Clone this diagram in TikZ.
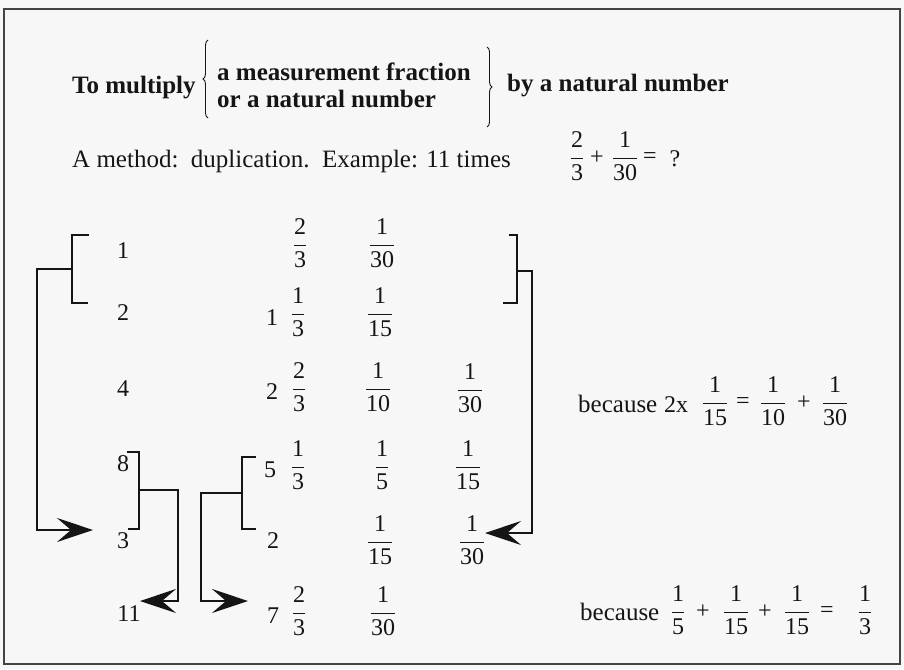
\RequirePackage{fix-cm}
\documentclass[tikz,border=0pt]{standalone}
\usepackage{fontspec}
\setmainfont{Liberation Serif}
\newfontfamily\tms{Liberation Serif}
\usetikzlibrary{arrows.meta,decorations.pathreplacing}
\definecolor{bg}{HTML}{F7F7F7}
\definecolor{ink}{HTML}{151515}
\newcommand\fr[2]{$\displaystyle\frac{\mbox{\tms #1}}{\mbox{\tms #2}}$}
\begin{document}
\begin{tikzpicture}[x=1pt,y=-1pt,
  ttl/.style={font=\tms\fontsize{25}{29}\selectfont\bfseries, inner sep=0pt, text=ink, anchor=base west},
  txt/.style={font=\tms\fontsize{25}{29}\selectfont, inner sep=0pt, text=ink, anchor=base west},
  num/.style={font=\tms\fontsize{24}{28}\selectfont, inner sep=0pt, text=ink, anchor=base},
  op/.style={font=\tms\fontsize{24}{28}\selectfont, inner sep=0pt, text=ink, anchor=center},
  bk/.style={line width=2pt, draw=ink},
  arr/.style={bk, -{Stealth[length=36pt,width=24pt,inset=14pt]}},
  brc/.style={draw=ink, line width=0.9pt, decorate, decoration={brace, amplitude=5pt}}
]
\fill[bg] (0,0) rectangle (904,669);
\useasboundingbox (0,0) rectangle (904,669);
\draw[ink!80, line width=1.3pt] (4,9) rectangle (900,664);

% title
\node[ttl] (to) at (72,93) {To multiply};
\node[ttl] (m1) at (217,80) {a measurement fraction};
\node[ttl] (m2) at (217,107) {or a natural number};
\node[ttl] (by) at (507,92) {by a natural number};
\coordinate (lb1) at (208,118); \coordinate (lb2) at (208,40);
\coordinate (rb1) at (487,47); \coordinate (rb2) at (487,127);
\draw[brc] (lb1) -- (lb2);
\draw[brc] (rb1) -- (rb2);

% method line
\node[txt] (meth) at (72,167) {A method:\ \ duplication.\ \ Example: 11 times};
\node[num] (ex1) at (577,164) {\fr{2}{3}};
\node[op] (exp) at (597,158) {+};
\node[num] (ex2) at (625,164) {\fr{1}{30}};
\node[op] (exe) at (650,158) {=};
\node[num] (exq) at (675,166) {?};

% row 1
\node[num] (n1) at (123,258) {1};
\node[num] (f1a) at (300,251) {\fr{2}{3}};
\node[num] (f1b) at (382,251) {\fr{1}{30}};
% row 2
\node[num] (n2) at (123,320) {2};
\node[num] (i2) at (272,325) {1};
\node[num] (f2a) at (298,320) {\fr{1}{3}};
\node[num] (f2b) at (380,320) {\fr{1}{15}};
% row 3
\node[num] (n3) at (123,396) {4};
\node[num] (i3) at (272,399) {2};
\node[num] (f3a) at (299,395) {\fr{2}{3}};
\node[num] (f3b) at (378,395) {\fr{1}{10}};
\node[num] (f3c) at (470,396) {\fr{1}{30}};
% row 4
\node[num] (n4) at (123,471) {8};
\node[num] (i4) at (270,477) {5};
\node[num] (f4a) at (298,473) {\fr{1}{3}};
\node[num] (f4b) at (382,473) {\fr{1}{5}};
\node[num] (f4c) at (468,473) {\fr{1}{15}};
% row 5
\node[num] (n5) at (123,548) {3};
\node[num] (i5) at (273,548) {2};
\node[num] (f5b) at (380,548) {\fr{1}{15}};
\node[num] (f5c) at (472,548) {\fr{1}{30}};
% row 6
\node[num] (n6) at (129,621) {11};
\node[num] (i6) at (273,623) {7};
\node[num] (f6a) at (299,619) {\fr{2}{3}};
\node[num] (f6b) at (383,619) {\fr{1}{30}};

% because lines
\node[txt] (bc1) at (578,412) {because};
\node[num] (bx) at (676,412) {2x};
\node[num] (bq1) at (715,409) {\fr{1}{15}};
\node[op] (be1) at (743,403) {=};
\node[num] (bq2) at (773,409) {\fr{1}{10}};
\node[op] (bp1) at (804,403) {+};
\node[num] (bq3) at (835,409) {\fr{1}{30}};

\node[txt] (bc2) at (580,620) {because};
\node[num] (cq1) at (678,618) {\fr{1}{5}};
\node[op] (cp1) at (703,612) {+};
\node[num] (cq2) at (736,618) {\fr{1}{15}};
\node[op] (cp2) at (765,612) {+};
\node[num] (cq3) at (797,618) {\fr{1}{15}};
\node[op] (ce) at (827,612) {=};
\node[num] (cq4) at (865,618) {\fr{1}{3}};

% bracket 1 (1,2) -> 3
\coordinate (a1) at (89,235); \coordinate (a2) at (72,235);
\coordinate (a3) at (72,303); \coordinate (a4) at (88,303);
\coordinate (am) at (72,269); \coordinate (ak) at (37,269);
\coordinate (al) at (37,530); \coordinate (at3) at (93,530);
\draw[bk] (a1) -- (a2) -- (a3) -- (a4);
\draw[arr] (am) -- (ak) -- (al) -- (at3);

% bracket 2 (8,3) -> 11
\coordinate (b1) at (127,452); \coordinate (b2) at (139,452);
\coordinate (b3) at (139,529); \coordinate (b4) at (128,529);
\coordinate (bm) at (139,490); \coordinate (bk1) at (178,490);
\coordinate (bl) at (178,601); \coordinate (bt) at (140,601);
\draw[bk] (b1) -- (b2) -- (b3) -- (b4);
\draw[arr] (bm) -- (bk1) -- (bl) -- (bt);

% bracket 3 (5 1/3, 2) -> 7 2/3
\coordinate (c1) at (256,457); \coordinate (c2) at (242,457);
\coordinate (c3) at (242,529); \coordinate (c4) at (256,529);
\coordinate (cm) at (242,493); \coordinate (ck) at (201,493);
\coordinate (cl) at (201,601); \coordinate (ct) at (248,601);
\draw[bk] (c1) -- (c2) -- (c3) -- (c4);
\draw[arr] (cm) -- (ck) -- (cl) -- (ct);

% bracket 4 (1/30, 1/15) -> 1/30
\coordinate (d1) at (509,235); \coordinate (d2) at (517,235);
\coordinate (d3) at (517,303); \coordinate (d4) at (503,303);
\coordinate (dm) at (517,271); \coordinate (dk) at (532,271);
\coordinate (dl) at (532,533); \coordinate (dt) at (485,533);
\draw[bk] (d1) -- (d2) -- (d3) -- (d4);
\draw[arr] (dm) -- (dk) -- (dl) -- (dt);
\end{tikzpicture}
\end{document}
